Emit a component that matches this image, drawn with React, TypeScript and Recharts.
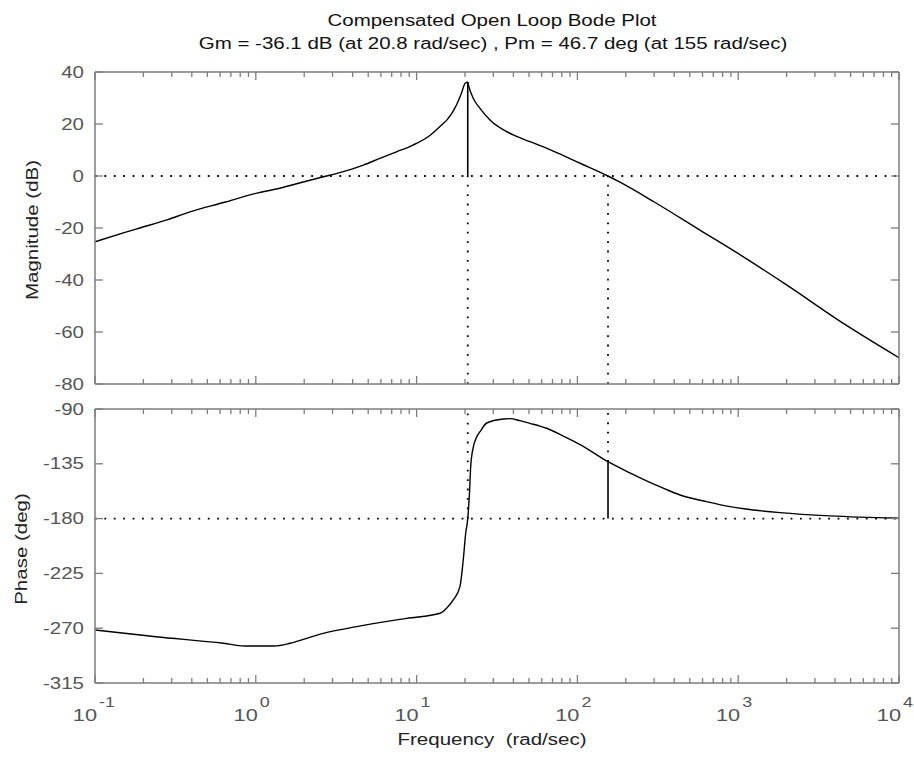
import { LineChart, Line, XAxis, YAxis, ReferenceLine } from 'recharts';

// frequency axis, rad/sec (log)
const decades = [0.1, 1, 10, 100, 1000, 10000];
const minorSteps = [2, 3, 4, 5, 6, 7, 8, 9];
const freqTicks = [
  ...decades,
  ...decades.slice(0, -1).flatMap((d) => minorSteps.map((m) => +(d * m).toPrecision(3))),
].sort((a, b) => a - b);

const magTicks = [-80, -60, -40, -20, 0, 20, 40];
const phaseTicks = [-315, -270, -225, -180, -135, -90];

// magnitude curve
const magFreq = [0.1, 0.15, 0.19, 0.28, 0.39, 0.63, 1, 1.41, 2, 2.63, 3.2, 4.67, 5.92, 7.5, 9.5, 12.1, 14.7, 15.4, 17.7, 19, 20, 20.8, 21, 22.5, 24.8, 28.6, 39.9, 50.7, 70.8, 104, 155, 184, 297, 578, 1072, 2000, 4510, 10000];
const magDb = [-25.3, -21.9, -20.0, -16.9, -13.8, -10.2, -6.7, -4.7, -2.2, -0.3, 1.0, 4.2, 6.8, 9.3, 11.9, 15.6, 20.3, 21.5, 27.3, 31.8, 35.6, 36.1, 35, 29.9, 26, 21.5, 15.8, 13.2, 9.6, 4.9, 0, -2.4, -9.8, -20.8, -31.0, -41.9, -56.7, -69.9];

// phase curve
const phaseFreq = [0.1, 0.24, 0.63, 0.85, 1.3, 1.63, 2.07, 2.63, 4.24, 8.67, 14, 15.5, 16.9, 18.6, 19.5, 20.2, 20.8, 21.3, 21.7, 22.3, 23.7, 24.8, 27.3, 34.6, 38, 44, 50.7, 58.5, 64.4, 81.7, 104, 155, 212, 269, 342, 435, 637, 889, 1242, 1820, 3724, 10000];
const phaseDeg = [-271.4, -277, -282.4, -284.6, -284.6, -282.4, -278.3, -274.2, -268.7, -261.9, -257.7, -253, -246.8, -235.9, -214, -192, -180, -160, -137, -124, -112.7, -108.6, -101.5, -98.2, -97.9, -99.6, -101.8, -104.0, -105.8, -112.2, -119.2, -133.3, -142.5, -149.0, -155.0, -160.6, -166.1, -170.2, -172.9, -175.1, -177.8, -179.7];

// margins
const gmFreq = 20.8;
const gmDb = 36.1;
const pmFreq = 155;
const pmPhase = -133.3;

const magData = magFreq.map((w, i) => ({ w, mag: magDb[i] }));
const phaseData = phaseFreq.map((w, i) => ({ w, phase: phaseDeg[i] }));

const AXIS = '#7c7c7c';
const TICK_TEXT = '#555';
const FONT = "'Liberation Sans', Arial, Helvetica, sans-serif";
const SX = 1.28;
const DOTS = { stroke: '#000', strokeWidth: 1.8, strokeDasharray: '1.8 7.6' };

const isDecade = (v: number) => {
  const l = Math.log10(v);
  return Math.abs(l - Math.round(l)) < 1e-6;
};

const FreqTick = (props: any) => {
  const { x, y, payload, side, labels } = props;
  const major = isDecade(payload.value);
  const len = major ? 8 : 5;
  const dir = side === 'top' ? 1 : -1;
  return (
    <g>
      <line x1={x} x2={x} y1={y} y2={y + dir * len} stroke={AXIS} strokeWidth={1.3} />
      {labels && major && (
        <g fill={TICK_TEXT} fontFamily={FONT}>
          <text transform={`translate(${x + 2},${y + 38}) scale(${SX},1)`} textAnchor="end" fontSize={17}>
            10
          </text>
          <text transform={`translate(${x + 4},${y + 24}) scale(${SX},1)`} textAnchor="start" fontSize={14}>
            {String(Math.round(Math.log10(payload.value)))}
          </text>
        </g>
      )}
    </g>
  );
};

const ValueTick = (props: any) => {
  const { x, y, payload, side } = props;
  const dir = side === 'right' ? -1 : 1;
  return (
    <g>
      <line x1={x} x2={x + dir * 8} y1={y} y2={y} stroke={AXIS} strokeWidth={1.3} />
      {side === 'left' && (
        <text
          transform={`translate(${x - 11},${y}) scale(${SX},1)`}
          textAnchor="end"
          dominantBaseline="central"
          fontSize={16}
          fill={TICK_TEXT}
          fontFamily={FONT}
        >
          {String(payload.value)}
        </text>
      )}
    </g>
  );
};

const axisLine = { stroke: AXIS, strokeWidth: 1.5 };

const freqAxes = (labels: boolean) => [
  <XAxis
    key="xb"
    dataKey="w"
    type="number"
    scale="log"
    domain={[0.1, 10000]}
    allowDataOverflow
    ticks={freqTicks}
    interval={0}
    height={1}
    tickSize={0}
    tickMargin={0}
    tickLine={false}
    axisLine={axisLine}
    tick={(p: any) => <FreqTick {...p} side="bottom" labels={labels} />}
  />,
  <XAxis
    key="xt"
    xAxisId="top"
    orientation="top"
    dataKey="w"
    type="number"
    scale="log"
    domain={[0.1, 10000]}
    allowDataOverflow
    ticks={freqTicks}
    interval={0}
    height={1}
    tickSize={0}
    tickMargin={0}
    tickLine={false}
    axisLine={axisLine}
    tick={(p: any) => <FreqTick {...p} side="top" />}
  />,
];

const valueAxes = (domain: number[], ticks: number[]) => [
  <YAxis
    key="yl"
    type="number"
    domain={domain}
    allowDataOverflow
    ticks={ticks}
    interval={0}
    width={1}
    tickSize={0}
    tickMargin={0}
    tickLine={false}
    axisLine={axisLine}
    tick={(p: any) => <ValueTick {...p} side="left" />}
  />,
  <YAxis
    key="yr"
    yAxisId="right"
    orientation="right"
    type="number"
    domain={domain}
    allowDataOverflow
    ticks={ticks}
    interval={0}
    width={1}
    tickSize={0}
    tickMargin={0}
    tickLine={false}
    axisLine={axisLine}
    tick={(p: any) => <ValueTick {...p} side="right" />}
  />,
];

const Text = ({ text, cx, cy, rotate = false, color = '#222' }: any) => (
  <div
    style={{
      position: 'absolute',
      left: cx,
      top: cy,
      transform: `translate(-50%,-50%)${rotate ? ' rotate(-90deg)' : ''} scaleX(${SX})`,
      whiteSpace: 'pre',
      fontFamily: FONT,
      fontSize: 16,
      lineHeight: 1,
      color,
    }}
  >
    {text}
  </div>
);

export default function App() {
  return (
    <div style={{ position: 'absolute', left: 0, top: 0, width: 914, height: 761, background: '#fff', overflow: 'hidden' }}>
      <div style={{ position: 'absolute', left: 0, top: 0 }}>
        <LineChart width={914} height={400} data={magData} margin={{ top: 71, right: 14, bottom: 15, left: 94 }}>
          {freqAxes(false)}
          {valueAxes([-80, 40], magTicks)}
          <ReferenceLine y={0} {...DOTS} ifOverflow="visible" />
          <ReferenceLine segment={[{ x: gmFreq, y: -80 }, { x: gmFreq, y: 0 }]} {...DOTS} ifOverflow="visible" />
          <ReferenceLine segment={[{ x: pmFreq, y: -80 }, { x: pmFreq, y: 0 }]} {...DOTS} ifOverflow="visible" />
          <ReferenceLine segment={[{ x: gmFreq, y: 0 }, { x: gmFreq, y: gmDb }]} stroke="#000" strokeWidth={1.6} ifOverflow="visible" />
          <Line type="monotone" dataKey="mag" stroke="#000" strokeWidth={1.4} dot={false} isAnimationActive={false} />
        </LineChart>
      </div>
      <div style={{ position: 'absolute', left: 0, top: 390 }}>
        <LineChart width={914} height={371} data={phaseData} margin={{ top: 18, right: 14, bottom: 77, left: 94 }}>
          {freqAxes(true)}
          {valueAxes([-315, -90], phaseTicks)}
          <ReferenceLine y={-180} {...DOTS} ifOverflow="visible" />
          <ReferenceLine segment={[{ x: gmFreq, y: -180 }, { x: gmFreq, y: -90 }]} {...DOTS} ifOverflow="visible" />
          <ReferenceLine segment={[{ x: pmFreq, y: pmPhase }, { x: pmFreq, y: -90 }]} {...DOTS} ifOverflow="visible" />
          <ReferenceLine segment={[{ x: pmFreq, y: -180 }, { x: pmFreq, y: pmPhase }]} stroke="#000" strokeWidth={1.6} ifOverflow="visible" />
          <Line type="monotone" dataKey="phase" stroke="#000" strokeWidth={1.4} dot={false} isAnimationActive={false} />
        </LineChart>
      </div>
      <Text text="Compensated Open Loop Bode Plot" cx={492} cy={21} color="#111" />
      <Text text="Gm = -36.1 dB (at 20.8 rad/sec) , Pm = 46.7 deg (at 155 rad/sec)" cx={493} cy={44} color="#111" />
      <Text text="Magnitude (dB)" cx={33} cy={230} rotate />
      <Text text="Phase (deg)" cx={22} cy={549} rotate />
      <Text text="Frequency  (rad/sec)" cx={492} cy={740} />
    </div>
  );
}
